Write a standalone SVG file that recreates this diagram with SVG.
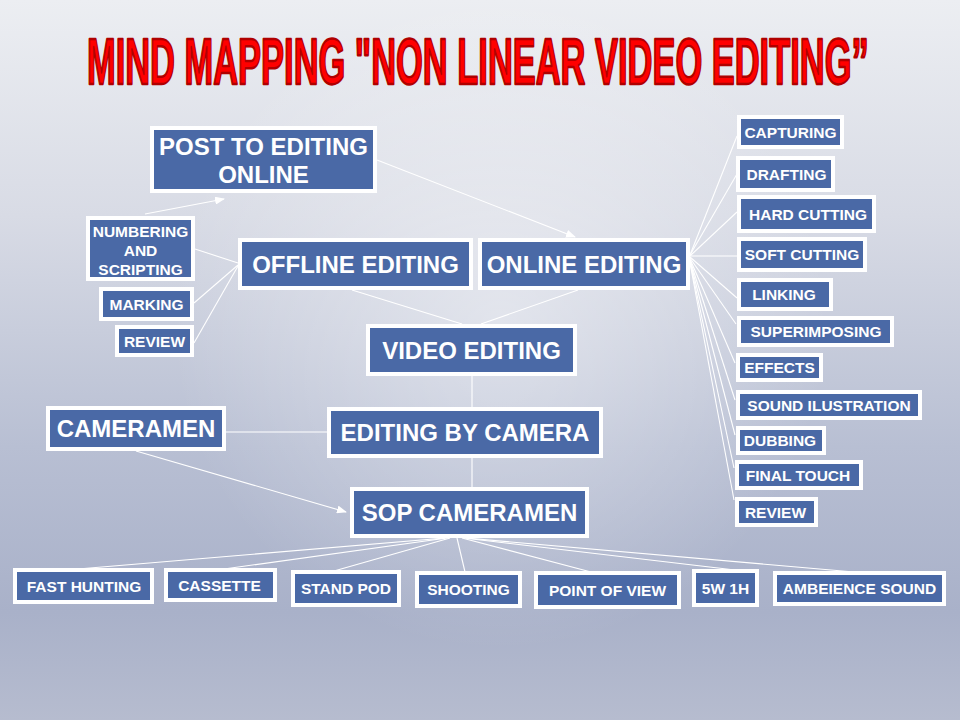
<svg xmlns="http://www.w3.org/2000/svg" width="960" height="720" viewBox="0 0 960 720">
<defs>
<linearGradient id="bg" x1="0" y1="0" x2="0" y2="1">
<stop offset="0" stop-color="#eceef2"/>
<stop offset="0.3" stop-color="#d8dbe5"/>
<stop offset="0.62" stop-color="#b8bfd3"/>
<stop offset="0.85" stop-color="#a9b1c9"/>
<stop offset="1" stop-color="#b6bccf"/>
</linearGradient>
<radialGradient id="glow" cx="500" cy="320" r="330" gradientUnits="userSpaceOnUse">
<stop offset="0" stop-color="#ffffff" stop-opacity="0.45"/>
<stop offset="1" stop-color="#ffffff" stop-opacity="0"/>
</radialGradient>
<marker id="arr" markerWidth="10" markerHeight="8" refX="9" refY="4" orient="auto" markerUnits="userSpaceOnUse">
<path d="M0,0 L10,4 L0,8 Z" fill="#ffffff"/>
</marker>
<style>
.box{fill:#4a69a6;stroke:#ffffff;stroke-width:4}
.t{font-family:"Liberation Sans",Arial,sans-serif;font-weight:bold;fill:#ffffff;text-anchor:middle}
.big{font-size:24px}
.sm{font-size:15.5px}
.ln{stroke:#ffffff;stroke-width:1.1;fill:none}
</style>
</defs>
<rect x="0" y="0" width="960" height="720" fill="url(#bg)"/>
<rect x="0" y="0" width="960" height="720" fill="url(#glow)"/>

<g id="title" transform="translate(87,84) scale(0.53,1)">
<text x="0" y="0" font-family="'Liberation Sans',Arial,sans-serif" font-weight="bold" font-size="65" fill="#ff0000" stroke="#b00000" stroke-width="2.4" stroke-linejoin="round">MIND MAPPING "NON LINEAR VIDEO EDITING”</text>
</g>

<g id="connectors">
<line class="ln" x1="377" y1="160" x2="575" y2="237" marker-end="url(#arr)"/>
<line class="ln" x1="145" y1="214" x2="224" y2="199" marker-end="url(#arr)"/>
<line class="ln" x1="195" y1="249" x2="238" y2="263"/>
<line class="ln" x1="194" y1="303" x2="238" y2="265"/>
<line class="ln" x1="194" y1="343" x2="238" y2="266"/>
<line class="ln" x1="352" y1="290" x2="462" y2="324"/>
<line class="ln" x1="578" y1="290" x2="481" y2="324"/>
<line class="ln" x1="472" y1="376" x2="472" y2="407"/>
<line class="ln" x1="226" y1="432" x2="327" y2="432"/>
<line class="ln" x1="472" y1="458" x2="472" y2="487"/>
<line class="ln" x1="136" y1="451" x2="346" y2="512" marker-end="url(#arr)"/>
<line class="ln" x1="690" y1="255" x2="737" y2="136"/>
<line class="ln" x1="690" y1="255" x2="737" y2="174"/>
<line class="ln" x1="690" y1="256" x2="737" y2="212"/>
<line class="ln" x1="690" y1="256" x2="737" y2="256"/>
<line class="ln" x1="690" y1="257" x2="737" y2="298"/>
<line class="ln" x1="690" y1="258" x2="736" y2="324"/>
<line class="ln" x1="690" y1="259" x2="735" y2="363"/>
<line class="ln" x1="690" y1="260" x2="735" y2="400"/>
<line class="ln" x1="690" y1="261" x2="735" y2="435"/>
<line class="ln" x1="690" y1="262" x2="734" y2="468"/>
<line class="ln" x1="690" y1="263" x2="734" y2="500"/>
<line class="ln" x1="445" y1="538" x2="78" y2="569"/>
<line class="ln" x1="447" y1="538" x2="224" y2="569"/>
<line class="ln" x1="450" y1="538" x2="334" y2="571"/>
<line class="ln" x1="457" y1="538" x2="465" y2="572"/>
<line class="ln" x1="462" y1="538" x2="591" y2="572"/>
<line class="ln" x1="464" y1="538" x2="735" y2="570"/>
<line class="ln" x1="466" y1="538" x2="854" y2="572"/>
</g>

<g id="post-to-editing-online"><rect class="box" x="152" y="128" width="223" height="63"/><text class="t big" x="263.5" y="155">POST TO EDITING</text><text class="t big" x="263.5" y="183">ONLINE</text></g>
<g id="numbering-and-scripting"><rect class="box" x="88" y="218" width="105" height="61"/><text class="t sm" x="140.5" y="237">NUMBERING</text><text class="t sm" x="140.5" y="256">AND</text><text class="t sm" x="140.5" y="275">SCRIPTING</text></g>
<g id="marking"><rect class="box" x="101" y="289" width="91" height="30"/><text class="t sm" x="146.5" y="309.5">MARKING</text></g>
<g id="review-left"><rect class="box" x="117" y="327" width="75" height="28"/><text class="t sm" x="154.5" y="346.5">REVIEW</text></g>
<g id="offline-editing"><rect class="box" x="240" y="240" width="231" height="48"/><text class="t big" x="355.5" y="272.5">OFFLINE EDITING</text></g>
<g id="online-editing"><rect class="box" x="480" y="240" width="208" height="48"/><text class="t big" x="584" y="272.5">ONLINE EDITING</text></g>
<g id="video-editing"><rect class="box" x="368" y="326" width="207" height="48"/><text class="t big" x="471.5" y="358.5">VIDEO EDITING</text></g>
<g id="editing-by-camera"><rect class="box" x="329" y="409" width="272" height="47"/><text class="t big" x="465" y="441">EDITING BY CAMERA</text></g>
<g id="cameramen"><rect class="box" x="48" y="408" width="176" height="41"/><text class="t big" x="136" y="437">CAMERAMEN</text></g>
<g id="sop-cameramen"><rect class="box" x="352" y="489" width="235" height="47"/><text class="t big" x="469.5" y="521">SOP CAMERAMEN</text></g>

<g id="capturing"><rect class="box" x="739" y="117" width="103" height="30"/><text class="t sm" x="790.5" y="137.5">CAPTURING</text></g>
<g id="drafting"><rect class="box" x="738" y="158" width="95" height="32"/><text class="t sm" x="786.5" y="179.5">DRAFTING</text></g>
<g id="hard-cutting"><rect class="box" x="739" y="197" width="135" height="34"/><text class="t sm" x="808" y="219.5">HARD CUTTING</text></g>
<g id="soft-cutting"><rect class="box" x="739" y="239" width="126" height="31"/><text class="t sm" x="802" y="260">SOFT CUTTING</text></g>
<g id="linking"><rect class="box" x="739" y="280" width="92" height="29"/><text class="t sm" x="784" y="300">LINKING</text></g>
<g id="superimposing"><rect class="box" x="739" y="318" width="153" height="27"/><text class="t sm" x="816" y="337">SUPERIMPOSING</text></g>
<g id="effects"><rect class="box" x="738" y="355" width="83" height="25"/><text class="t sm" x="779.5" y="373">EFFECTS</text></g>
<g id="sound-ilustration"><rect class="box" x="738" y="392" width="182" height="26"/><text class="t sm" x="829" y="410.5">SOUND ILUSTRATION</text></g>
<g id="dubbing"><rect class="box" x="738" y="428" width="86" height="25"/><text class="t sm" x="780" y="446">DUBBING</text></g>
<g id="final-touch"><rect class="box" x="737" y="462" width="124" height="26"/><text class="t sm" x="798" y="480.5">FINAL TOUCH</text></g>
<g id="review-right"><rect class="box" x="737" y="499" width="79" height="26"/><text class="t sm" x="775.5" y="517.5">REVIEW</text></g>

<g id="fast-hunting"><rect class="box" x="15" y="570" width="137" height="32"/><text class="t sm" x="84" y="591.5">FAST HUNTING</text></g>
<g id="cassette"><rect class="box" x="166" y="570" width="109" height="30"/><text class="t sm" x="219.5" y="590.5">CASSETTE</text></g>
<g id="stand-pod"><rect class="box" x="293" y="572" width="106" height="33"/><text class="t sm" x="346" y="594">STAND POD</text></g>
<g id="shooting"><rect class="box" x="417" y="573" width="103" height="33"/><text class="t sm" x="468.5" y="595">SHOOTING</text></g>
<g id="point-of-view"><rect class="box" x="536" y="573" width="143" height="34"/><text class="t sm" x="607.5" y="595.5">POINT OF VIEW</text></g>
<g id="5w-1h"><rect class="box" x="694" y="571" width="63" height="34"/><text class="t sm" x="725.5" y="593.5">5W 1H</text></g>
<g id="ambeience-sound"><rect class="box" x="775" y="573" width="169" height="31"/><text class="t sm" x="859.5" y="594">AMBEIENCE SOUND</text></g>
</svg>
